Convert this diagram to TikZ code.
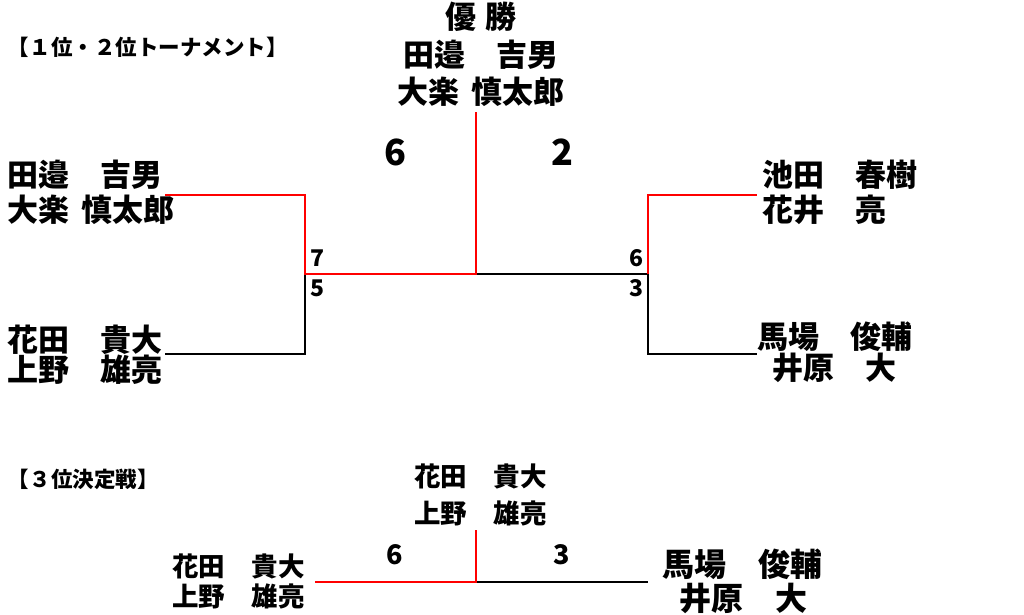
\documentclass[tikz,border=0pt]{standalone}
\usepackage{fontspec}
\setmainfont{Noto Sans CJK JP}
\begin{document}
\begin{tikzpicture}[x=1pt,y=-1pt,
  lbl/.style={inner sep=0pt,outer sep=0pt,font=\bfseries},
  nm/.style={lbl,font=\fontsize{31}{35}\selectfont\bfseries},
  nms/.style={lbl,font=\fontsize{26.5}{30}\selectfont\bfseries},
  ttl/.style={lbl,font=\fontsize{21.5}{25}\selectfont\bfseries},
  big/.style={lbl,font=\fontsize{36}{40}\selectfont\bfseries},
  mid/.style={lbl,font=\fontsize{27}{30}\selectfont\bfseries},
  sml/.style={lbl,font=\fontsize{23}{26}\selectfont\bfseries},
  win/.style={draw=red,line width=1.5pt},
  lose/.style={draw=black,line width=1.5pt}]
\useasboundingbox (0,0) rectangle (1024,614);
% titles
\node[ttl,anchor=west] (t1) at (8,47.5) {【１位・２位トーナメント】};
\node[ttl,anchor=west] (t2) at (8,479) {【３位決定戦】};
% champion
\node[nm,anchor=center] (w0) at (481,17) {優\hspace{0.27em}勝};
\node[nm,anchor=center] (w1) at (481,54.5) {田邉　吉男};
\node[nm,anchor=center] (w2) at (481,91.5) {大楽\hspace{0.4em}慎太郎};
% left players
\node[nm,anchor=west] (a1) at (7,174.5) {田邉　吉男};
\node[nm,anchor=west] (a2) at (7,210) {大楽\hspace{0.4em}慎太郎};
\node[nm,anchor=west] (b1) at (7,339.5) {花田　貴大};
\node[nm,anchor=west] (b2) at (7,370) {上野　雄亮};
% right players
\node[nm,anchor=west] (c1) at (762,174.5) {池田　春樹};
\node[nm,anchor=west] (c2) at (762,210) {花井　亮};
\node[nm,anchor=west] (d1) at (757,337) {馬場　俊輔};
\node[nm,anchor=west] (d2) at (772,368) {井原　大};
% scores
\node[big] (s1) at (395,152) {6};
\node[big] (s2) at (562,152) {2};
\node[sml,anchor=west] (s3) at (310,258.5) {7};
\node[sml,anchor=west] (s4) at (310,288) {5};
\node[sml,anchor=east] (s5) at (643,258.5) {6};
\node[sml,anchor=east] (s6) at (643,288) {3};
% bracket coordinates
\coordinate (top) at (476,112);
\coordinate (ctr) at (476,274);
\coordinate (lj) at (305,274);
\coordinate (l1t) at (305,195);
\coordinate (l1e) at (165,195);
\coordinate (l2t) at (305,354);
\coordinate (l2e) at (165,354);
\coordinate (rj) at (648,274);
\coordinate (r1t) at (648,195);
\coordinate (r1e) at (757,195);
\coordinate (r2t) at (648,354);
\coordinate (r2e) at (757,354);
\draw[lose] (l2e) -- (l2t) -- (lj);
\draw[lose] (ctr) -- (rj) -- (r2t) -- (r2e);
\draw[win] (l1e) -- (l1t) -- (lj) -- (ctr) -- (top);
\draw[win] (rj) -- (r1t) -- (r1e);
% third place
\node[nms,anchor=west] (e1) at (414,476) {花田　貴大};
\node[nms,anchor=west] (e2) at (414,513) {上野　雄亮};
\node[nms,anchor=west] (f1) at (172,566) {花田　貴大};
\node[nms,anchor=west] (f2) at (172,596) {上野　雄亮};
\node[nm,anchor=west,font=\fontsize{32}{36}\selectfont\bfseries] (g1) at (662,564.5) {馬場　俊輔};
\node[nm,anchor=west,font=\fontsize{32}{36}\selectfont\bfseries] (g2) at (679,598) {井原　大};
\node[mid] (s7) at (395,555) {6};
\node[mid] (s8) at (562,555) {3};
\coordinate (btop) at (476,530);
\coordinate (bc) at (476,582);
\coordinate (bl) at (315,582);
\coordinate (br) at (648,582);
\draw[lose] (bc) -- (br);
\draw[win] (bl) -- (bc) -- (btop);
\end{tikzpicture}
\end{document}
